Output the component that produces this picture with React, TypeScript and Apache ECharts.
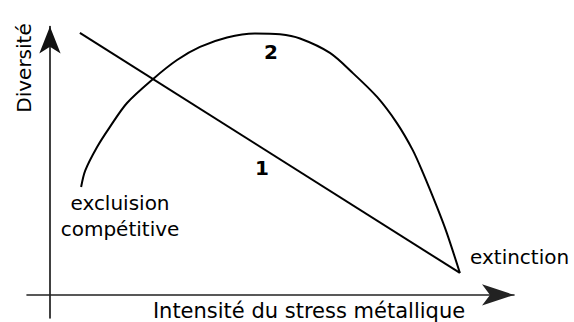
import React, { useEffect, useRef } from "react";
import * as echarts from "echarts";

// Axis extents (data units: x = stress intensity, y = diversity)
const X_RANGE = [-5.6, 113.2];
const Y_RANGE = [-8.8, 102.5];

// Curve 1: straight decline of diversity
const line1X = [7.3, 100];
const line1Y = [100.1, 8.4];

// Curve 2: hump-shaped response
const curve2X = [7.6, 8.6, 11.5, 14.6, 18.8, 25.1, 31.0, 36.6, 43.2, 50.0, 56.1, 61.0, 68.3, 73.9, 79.8, 84.6, 88.5, 91.0, 94.4, 96.8, 100];
const curve2Y = [41.2, 47.5, 56.5, 64.1, 73.3, 82.4, 89.7, 94.7, 98.3, 99.8, 99.5, 97.9, 92.4, 84.7, 75.6, 65.7, 55.3, 46.6, 33.6, 23.7, 8.4];

const X_TITLE = "Intensité du stress métallique";
const Y_TITLE = "Diversité";
const LEFT_NOTE = "excluision\ncompétitive";
const RIGHT_NOTE = "extinction";
const LABEL_1 = "1";
const LABEL_2 = "2";

const FONT = "DejaVu Sans";
const INK = "#000";

export default function App() {
  const ref = useRef<HTMLDivElement>(null);
  useEffect(() => {
    if (!ref.current) return;
    const chart = echarts.init(ref.current, null, { renderer: "svg" });
    const axisCommon = {
      type: "value" as const,
      axisLabel: { show: false },
      axisTick: { show: false },
      splitLine: { show: false },
    };
    chart.setOption({
      animation: false,
      backgroundColor: "#fff",
      grid: { left: 27, right: 60, top: 26.5, bottom: 4 },
      xAxis: {
        ...axisCommon,
        min: X_RANGE[0],
        max: X_RANGE[1],
        axisLine: {
          show: true,
          onZero: true,
          symbol: ["none", "arrow"],
          symbolSize: [16, 32],
          lineStyle: { color: "#222", width: 1.6 },
        },
      },
      yAxis: {
        ...axisCommon,
        min: Y_RANGE[0],
        max: Y_RANGE[1],
        axisLine: {
          show: true,
          onZero: true,
          symbol: ["none", "arrow"],
          symbolSize: [16, 27],
          lineStyle: { color: "#111", width: 1.6 },
        },
      },
      series: [
        {
          type: "line",
          data: line1X.map((x, i) => [x, line1Y[i]]),
          symbol: "none",
          lineStyle: { color: INK, width: 2 },
        },
        {
          type: "line",
          data: curve2X.map((x, i) => [x, curve2Y[i]]),
          symbol: "none",
          smooth: 0.3,
          lineStyle: { color: INK, width: 2 },
        },
      ],
      graphic: [
        {
          type: "text",
          x: 24,
          y: 68,
          rotation: Math.PI / 2,
          style: { text: Y_TITLE, font: `20px '${FONT}'`, fill: INK, align: "center", verticalAlign: "middle" },
        },
        {
          type: "text",
          x: 309,
          y: 311,
          style: { text: X_TITLE, font: `21px '${FONT}'`, fill: INK, align: "center", verticalAlign: "middle" },
        },
        {
          type: "text",
          x: 120,
          y: 216,
          style: {
            text: LEFT_NOTE,
            font: `20px '${FONT}'`,
            lineHeight: 26,
            fill: INK,
            align: "center",
            verticalAlign: "middle",
          },
        },
        {
          type: "text",
          x: 470,
          y: 257,
          style: { text: RIGHT_NOTE, font: `20px '${FONT}'`, fill: INK, align: "left", verticalAlign: "middle" },
        },
        {
          type: "text",
          x: 262,
          y: 168,
          style: { text: LABEL_1, font: `bold 20px '${FONT}'`, fill: INK, align: "center", verticalAlign: "middle" },
        },
        {
          type: "text",
          x: 271,
          y: 52,
          style: { text: LABEL_2, font: `bold 20px '${FONT}'`, fill: INK, align: "center", verticalAlign: "middle" },
        },
      ],
    });
    return () => chart.dispose();
  }, []);
  return <div ref={ref} style={{ position: "fixed", left: 0, top: 0, width: 574, height: 322 }} />;
}
